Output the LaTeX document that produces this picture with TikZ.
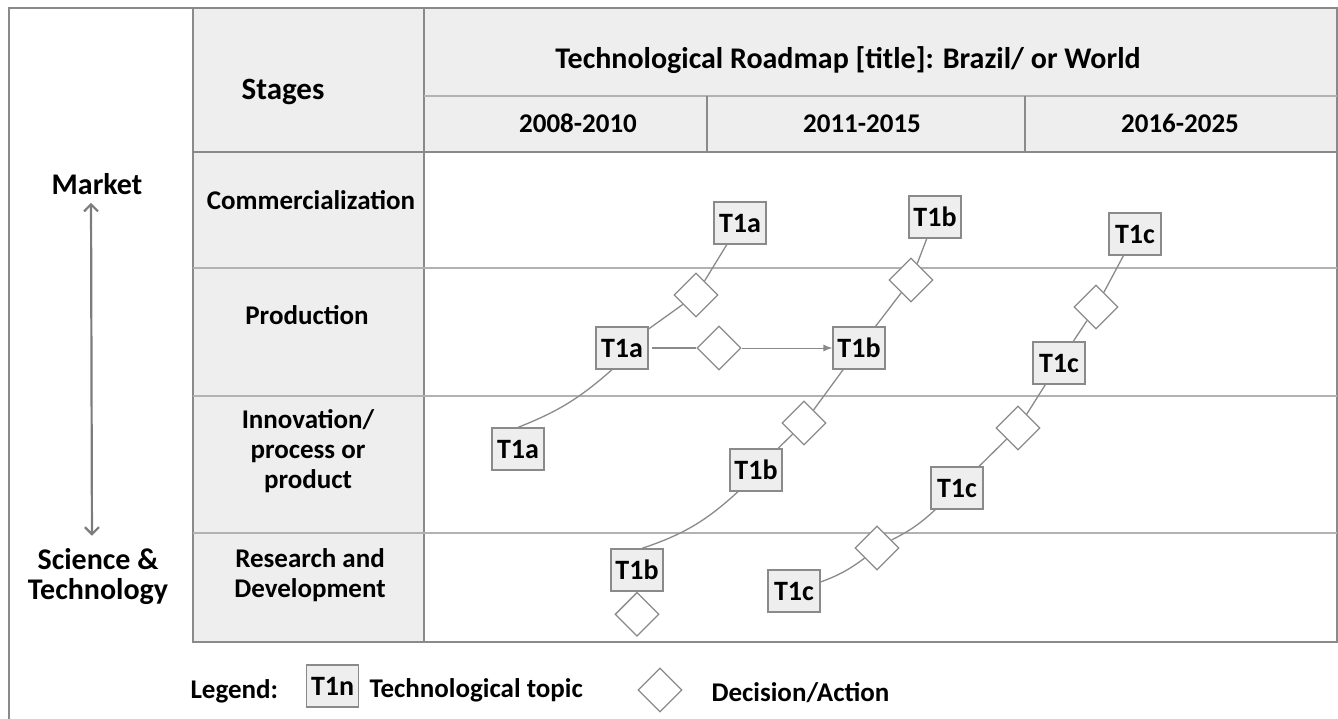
\documentclass[tikz,border=0pt]{standalone}
\usepackage{fontspec}
\setmainfont{Carlito}
\usetikzlibrary{arrows.meta, positioning, shapes.geometric}
\definecolor{cellgray}{HTML}{EEEEEE}
\definecolor{linegray}{HTML}{8A8A8A}
\definecolor{rulegray}{HTML}{B2B2B2}

\begin{document}
\begin{tikzpicture}[x=1pt, y=-1pt, >=Latex,
  every node/.style={font=\fontsize{27}{30}\selectfont\bfseries},
  topic/.style={draw=linegray, fill=cellgray, line width=1.3pt, minimum width=52pt, minimum height=42pt, inner sep=0pt, text height=19pt, text depth=0pt, font=\fontsize{28}{30}\selectfont\bfseries},
  decision/.style={diamond, draw=linegray, fill=white, line width=1.3pt, minimum width=44pt, minimum height=44pt, inner sep=0pt},
  link/.style={draw=linegray, line width=1.3pt},
  period/.style={anchor=base},
  stage/.style={align=center}]

\useasboundingbox (0,0) rectangle (1338,719);

% Table
\fill[cellgray] (193,8) rectangle (1337,152);
\fill[cellgray] (193,152) rectangle (424,642);
\draw[linegray, line width=1.5pt] (9,719) -- (9,8) -- (1337,8);
\draw[linegray, line width=1.5pt] (193,8) rectangle (1337,642);
\draw[linegray, line width=1.3pt] (424,8) -- (424,642);
\draw[rulegray, line width=1.3pt] (424,96) -- (1337,96);
\draw[linegray, line width=1.3pt] (193,152) -- (1337,152);
\draw[linegray, line width=1.3pt] (707,96) -- (707,152) (1025,96) -- (1025,152);
\foreach \y in {268,396,533}
  \draw[rulegray, line width=1.3pt] (193,\y) -- (1337,\y);

% Headers
\node (title) at (848,60) {\fontsize{30}{34}\selectfont Technological Roadmap [title]: Brazil/ or World};
\node (stages) at (283,92) {\fontsize{31}{34}\selectfont Stages};
\node[period] (y1) at (578,133) {2008-2010};
\node[period] (y2) at (862,133) {2011-2015};
\node[period] (y3) at (1180,133) {2016-2025};

% Stage labels
\node[stage] (commerc) at (311,200) {Commercialization};
\node[stage] (prod) at (307,315) {Production};
\node[stage] (innov) at (308,451) {Innovation/\\process or\\product};
\node[stage] (rnd) at (310,575) {Research and\\Development};

% Axis
\node[inner sep=0pt] (market) at (97,184) {\fontsize{30}{34}\selectfont Market};
\node[inner sep=0pt, align=center] (science) at (98,577) {\fontsize{30}{30}\selectfont Science \&\\\fontsize{30}{30}\selectfont Technology};
\draw[linegray!90!black, line width=2.2pt, {Straight Barb[length=7pt, width=14pt]}-{Straight Barb[length=7pt, width=14pt]}, shorten <=8pt, shorten >=13pt]
  ([xshift=-6pt]market.south) -- ([xshift=-6pt]science.north);

% Topics T1a
\node[topic] (a1) at (518,449) {T1a};
\node[topic] (a2) at (622,348) {T1a};
\node[decision] (da) at (696,295) {};
\node[topic] (a3) at (740,223) {T1a};
\node[decision] (dab) at (719,348) {};

% Topics T1b
\node[topic] (b1) at (637,570) {T1b};
\node[decision, below=0pt of b1] (db0) {};
\node[topic] (b2) at (756,470) {T1b};
\node[decision] (db1) at (804,423) {};
\node[topic] (b3) at (859,348) {T1b};
\node[decision] (db2) at (911,280) {};
\node[topic] (b4) at (935,217) {T1b};

% Topics T1c
\node[topic] (c1) at (794,591) {T1c};
\node[decision] (dc1) at (877,548) {};
\node[topic] (c2) at (957,488) {T1c};
\node[decision] (dc2) at (1018,428) {};
\node[topic] (c3) at (1059,363) {T1c};
\node[decision] (dc3) at (1096,307) {};
\node[topic] (c4) at (1135,234) {T1c};

% Links
\draw[link] (a1.north) to[bend right=10] ([xshift=-10pt]a2.south);
\draw[link] (a2) -- (da);
\draw[link] (da) -- (a3);
\draw[link] ([xshift=3pt]a2.east) -- (dab.west);
\draw[link, line width=1pt, -{Latex[length=9pt, width=7pt]}] (dab.east) -- (b3.west);
\draw[link] ([xshift=5pt]b1.north) to[bend right=12] ([xshift=-18pt]b2.south);
\draw[link] (b2) -- (db1);
\draw[link] (db1) -- (b3);
\draw[link] (b3) -- (db2);
\draw[link] (db2) -- (b4);
\draw[link] ([yshift=9pt]c1.east) to[bend right=8] (dc1);
\draw[link] (dc1) to[bend right=8] (c2);
\draw[link] (c2) -- (dc2);
\draw[link] (dc2) -- (c3);
\draw[link] (c3) -- (dc3);
\draw[link] (dc3) -- (c4);

% Legend
\node[anchor=west] (legend) at (187,691) {Legend:};
\node[topic, anchor=west] (key1) at (306,686) {T1n};
\node[anchor=west] (keytext1) at (366,690) {Technological topic};
\node[decision] (key2) at (660,690) {};
\node[anchor=west] (keytext2) at (708,693) {Decision/Action};

\end{tikzpicture}
\end{document}
